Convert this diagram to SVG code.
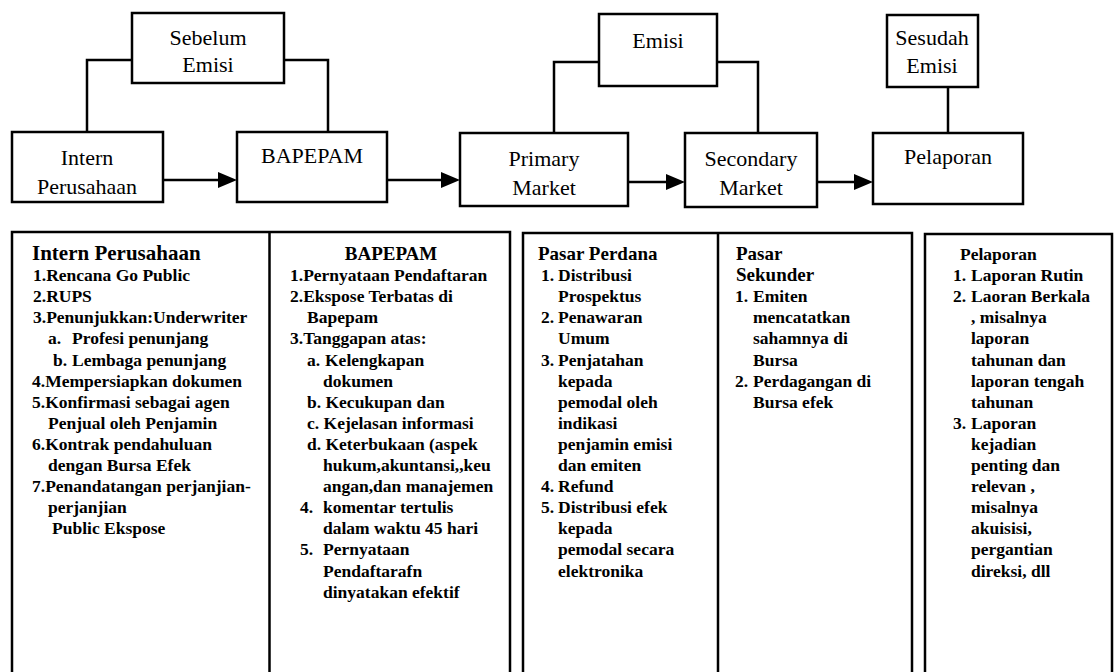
<svg xmlns="http://www.w3.org/2000/svg" width="1116" height="672" viewBox="0 0 1116 672">
<style>
.box{fill:#fff;stroke:#000;stroke-width:2.5}
.conn{fill:none;stroke:#000;stroke-width:2.5}
.lbl{font-family:"Liberation Serif","Times New Roman",serif;font-size:22px;text-anchor:middle;fill:#000}
.t{font-family:"Liberation Serif","Times New Roman",serif;font-weight:bold;font-size:17.5px;fill:#000}
.h{font-size:19px}
.h2{font-size:21px}
.c{text-anchor:middle}
</style>
<defs>
<marker id="arr" viewBox="0 0 19 16" markerWidth="19" markerHeight="16" refX="10" refY="8" markerUnits="userSpaceOnUse" orient="auto">
<path d="M0,0 L19,8 L0,16 z" fill="#000"/>
</marker>
</defs>
<rect width="1116" height="672" fill="#fff"/>

<g id="connectors">
<path class="conn" d="M132,60 H87 V132"/>
<path class="conn" d="M284,60 H328 V132"/>
<path class="conn" d="M599,62 H554 V133"/>
<path class="conn" d="M717,62 H758 V133"/>
<path class="conn" d="M948,87 V133"/>
<path class="conn" d="M163,180 H228" marker-end="url(#arr)"/>
<path class="conn" d="M387,180 H451" marker-end="url(#arr)"/>
<path class="conn" d="M628,182 H676" marker-end="url(#arr)"/>
<path class="conn" d="M817,182 H864" marker-end="url(#arr)"/>
</g>

<g id="sebelum-emisi">
<rect class="box" x="132" y="13" width="152" height="70"/>
<text class="lbl" x="208" y="45">Sebelum</text>
<text class="lbl" x="208" y="72">Emisi</text>
</g>
<g id="emisi">
<rect class="box" x="599" y="14" width="118" height="72"/>
<text class="lbl" x="658" y="48">Emisi</text>
</g>
<g id="sesudah-emisi">
<rect class="box" x="887" y="15" width="91" height="72"/>
<text class="lbl" x="932" y="45">Sesudah</text>
<text class="lbl" x="932" y="73">Emisi</text>
</g>
<g id="intern">
<rect class="box" x="12" y="132" width="151" height="70"/>
<text class="lbl" x="87" y="165">Intern</text>
<text class="lbl" x="87" y="194">Perusahaan</text>
</g>
<g id="bapepam">
<rect class="box" x="237" y="132" width="150" height="70"/>
<text class="lbl" x="312" y="163">BAPEPAM</text>
</g>
<g id="primary">
<rect class="box" x="460" y="133" width="168" height="73"/>
<text class="lbl" x="544" y="166">Primary</text>
<text class="lbl" x="544" y="195">Market</text>
</g>
<g id="secondary">
<rect class="box" x="685" y="133" width="132" height="74"/>
<text class="lbl" x="751" y="166">Secondary</text>
<text class="lbl" x="751" y="195">Market</text>
</g>
<g id="pelaporan">
<rect class="box" x="873" y="133" width="150" height="71"/>
<text class="lbl" x="948" y="164">Pelaporan</text>
</g>

<g id="detail-sebelum">
<rect class="box" x="12" y="232" width="498" height="450"/>
<line class="conn" x1="269.5" y1="232" x2="269.5" y2="672"/>
<text class="t h2" x="32" y="260">Intern Perusahaan</text>
<text class="t" x="33" y="281">1.Rencana Go Public</text>
<text class="t" x="33" y="302">2.RUPS</text>
<text class="t" x="33" y="323">3.Penunjukkan:Underwriter</text>
<text class="t" x="48" y="344">a.</text><text class="t" x="72" y="344">Profesi penunjang</text>
<text class="t" x="53" y="366">b.</text><text class="t" x="72" y="366">Lembaga penunjang</text>
<text class="t" x="32" y="387">4.Mempersiapkan dokumen</text>
<text class="t" x="32" y="408">5.Konfirmasi sebagai agen</text>
<text class="t" x="48" y="429">Penjual oleh Penjamin</text>
<text class="t" x="32" y="450">6.Kontrak pendahuluan</text>
<text class="t" x="48" y="471">dengan Bursa Efek</text>
<text class="t" x="32" y="492">7.Penandatangan perjanjian-</text>
<text class="t" x="48" y="513">perjanjian</text>
<text class="t" x="52" y="534">Public Ekspose</text>

<text class="t h c" x="391" y="260">BAPEPAM</text>
<text class="t" x="290" y="281">1.Pernyataan Pendaftaran</text>
<text class="t" x="290" y="302">2.Ekspose Terbatas di</text>
<text class="t" x="307" y="323">Bapepam</text>
<text class="t" x="290" y="344">3.Tanggapan atas:</text>
<text class="t" x="307" y="366">a.</text><text class="t" x="325" y="366">Kelengkapan</text>
<text class="t" x="323" y="387">dokumen</text>
<text class="t" x="307" y="408">b. Kecukupan dan</text>
<text class="t" x="307" y="429">c. Kejelasan informasi</text>
<text class="t" x="307" y="450">d. Keterbukaan (aspek</text>
<text class="t" x="323" y="471">hukum,akuntansi,,keu</text>
<text class="t" x="323" y="492">angan,dan manajemen</text>
<text class="t" x="300" y="513">4.</text><text class="t" x="323" y="513">komentar tertulis</text>
<text class="t" x="323" y="534">dalam waktu 45 hari</text>
<text class="t" x="300" y="555">5.</text><text class="t" x="323" y="555">Pernyataan</text>
<text class="t" x="323" y="577">Pendaftarafn</text>
<text class="t" x="323" y="598">dinyatakan efektif</text>
</g>

<g id="detail-emisi">
<rect class="box" x="523" y="233" width="389" height="450"/>
<line class="conn" x1="718" y1="233" x2="718" y2="672"/>
<text class="t h" x="538" y="260">Pasar Perdana</text>
<text class="t" x="541" y="281">1.</text><text class="t" x="558" y="281">Distribusi</text>
<text class="t" x="558" y="302">Prospektus</text>
<text class="t" x="541" y="323">2.</text><text class="t" x="558" y="323">Penawaran</text>
<text class="t" x="558" y="344">Umum</text>
<text class="t" x="541" y="366">3.</text><text class="t" x="558" y="366">Penjatahan</text>
<text class="t" x="558" y="387">kepada</text>
<text class="t" x="558" y="408">pemodal oleh</text>
<text class="t" x="558" y="429">indikasi</text>
<text class="t" x="558" y="450">penjamin emisi</text>
<text class="t" x="558" y="471">dan emiten</text>
<text class="t" x="541" y="492">4.</text><text class="t" x="558" y="492">Refund</text>
<text class="t" x="541" y="513">5.</text><text class="t" x="558" y="513">Distribusi efek</text>
<text class="t" x="558" y="534">kepada</text>
<text class="t" x="558" y="555">pemodal secara</text>
<text class="t" x="558" y="577">elektronika</text>

<text class="t h" x="736" y="260">Pasar</text>
<text class="t h" x="736" y="281">Sekunder</text>
<text class="t" x="735" y="302">1.</text><text class="t" x="753" y="302">Emiten</text>
<text class="t" x="753" y="323">mencatatkan</text>
<text class="t" x="753" y="344">sahamnya di</text>
<text class="t" x="753" y="366">Bursa</text>
<text class="t" x="735" y="387">2.</text><text class="t" x="753" y="387">Perdagangan di</text>
<text class="t" x="753" y="408">Bursa efek</text>
</g>

<g id="detail-sesudah">
<rect class="box" x="925" y="234" width="187" height="450"/>
<text class="t" x="960" y="260">Pelaporan</text>
<text class="t" x="953" y="281">1.</text><text class="t" x="971" y="281">Laporan Rutin</text>
<text class="t" x="953" y="302">2.</text><text class="t" x="971" y="302">Laoran Berkala</text>
<text class="t" x="971" y="323">, misalnya</text>
<text class="t" x="971" y="344">laporan</text>
<text class="t" x="971" y="366">tahunan dan</text>
<text class="t" x="971" y="387">laporan tengah</text>
<text class="t" x="971" y="408">tahunan</text>
<text class="t" x="953" y="429">3.</text><text class="t" x="971" y="429">Laporan</text>
<text class="t" x="971" y="450">kejadian</text>
<text class="t" x="971" y="471">penting dan</text>
<text class="t" x="971" y="492">relevan ,</text>
<text class="t" x="971" y="513">misalnya</text>
<text class="t" x="971" y="534">akuisisi,</text>
<text class="t" x="971" y="555">pergantian</text>
<text class="t" x="971" y="577">direksi, dll</text>
</g>
</svg>
